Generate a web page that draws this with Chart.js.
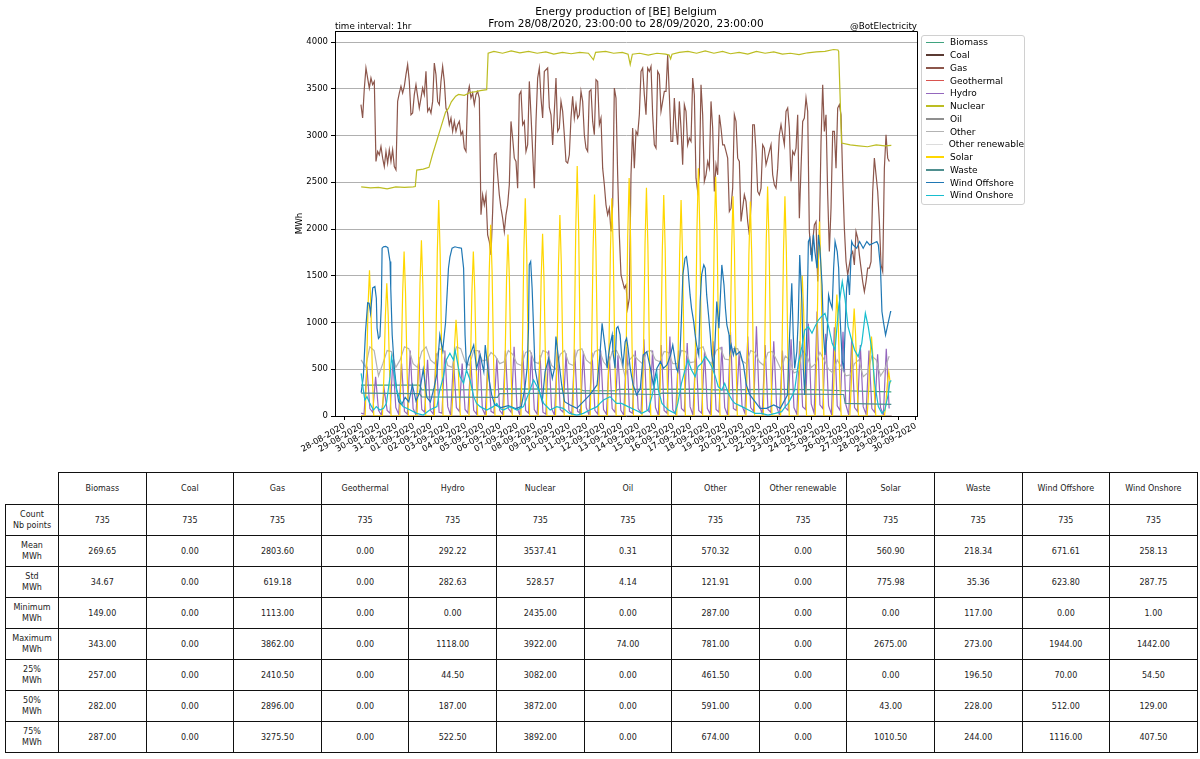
<!DOCTYPE html>
<html>
<head>
<meta charset="utf-8">
<script src="https://cdn.jsdelivr.net/npm/chart.js@4.4.1/dist/chart.umd.min.js"></script>
<style>
  html, body { margin: 0; padding: 0; background: #fff; }
  body { width: 1200px; height: 759px; position: relative; overflow: hidden; font-family: "DejaVu Sans", sans-serif; color: #000; }
  #chart { position: absolute; left: 0; top: 0; }
  .txt { position: absolute; white-space: nowrap; }
  #title { left: 326px; width: 600px; top: 5px; text-align: center; font-size: 10.5px; line-height: 12px; }
  #leftNote { left: 335px; top: 21px; font-size: 8.75px; line-height: 10px; }
  #rightNote { left: 717px; width: 200px; top: 21px; text-align: right; font-size: 8.75px; line-height: 10px; }
  #legend { position: absolute; left: 921px; top: 35px; width: 104px; height: 170px; box-sizing: border-box;
            border: 1px solid #d0d0d0; border-radius: 3px; padding: 0 0 0 4px; font-size: 9px; background: #fff; }
  .li { height: 12.75px; display: flex; align-items: center; white-space: nowrap; }
  .sw { display: inline-block; width: 18px; height: 1.5px; margin-right: 6px; }
  #tbl { position: absolute; left: 5px; top: 472px; border-collapse: collapse; table-layout: fixed; font-size: 8px; color: #222; }
  #tbl td { border: 1px solid #111; text-align: center; vertical-align: middle; padding: 0; line-height: 11px; }
  #tbl tr.hdr td { height: 31px; }
  #tbl tr.row td { height: 30px; }
  #tbl td.corner { border: none; }
</style>
</head>
<body>
<canvas id="chart" width="1200" height="470"></canvas>
<div id="title" class="txt">Energy production of [BE] Belgium<br>From 28/08/2020, 23:00:00 to 28/09/2020, 23:00:00</div>
<div id="leftNote" class="txt">time interval: 1hr</div>
<div id="rightNote" class="txt">@BotElectricity</div>
<div id="legend"></div>
<table id="tbl"></table>
<script>
// ---------------- categories / labels ----------------
const seriesNames = ['Biomass','Coal','Gas','Geothermal','Hydro','Nuclear','Oil','Other','Other renewable','Solar','Waste','Wind Offshore','Wind Onshore'];
const seriesColors = ['#3fa37f','#5a3a32','#8c564b','#d9534f','#9467bd','#bcbd22','#8f8f8f','#b3b3b3','#dcdcdc','#ffd700','#4f8f8f','#1f77b4','#17becf'];
const dayLabels = ['28-08-2020','29-08-2020','30-08-2020','31-08-2020','01-09-2020','02-09-2020','03-09-2020','04-09-2020','05-09-2020','06-09-2020','07-09-2020','08-09-2020','09-09-2020','10-09-2020','11-09-2020','12-09-2020','13-09-2020','14-09-2020','15-09-2020','16-09-2020','17-09-2020','18-09-2020','19-09-2020','20-09-2020','21-09-2020','22-09-2020','23-09-2020','24-09-2020','25-09-2020','26-09-2020','27-09-2020','28-09-2020','29-09-2020','30-09-2020'];
const yTicks = [0,500,1000,1500,2000,2500,3000,3500,4000];

// time unit: hours since 28-08-2020 00:00
// ---------------- series values ----------------
// Gas: read every 2.311 h starting at hour 22.7
const gasStart = 22.7, gasStep = 2.311;
const gas = [
3330,3187,3500,3722,3615,3508,3615,3544,3579,2723,
2830,2794,2883,2758,2669,2830,2705,2848,2723,2848,
2669,2634,3365,3454,3526,3454,3526,3651,3758,3579,
3222,3240,3437,3544,3419,3294,3401,3508,3437,3686,
3258,3294,3240,3365,3776,3651,3365,3330,3579,3740,
3579,3294,3240,3115,3187,3044,3151,3044,3115,3151,
3008,3044,2866,2830,3437,3526,3401,3454,3330,3437,
3472,3401,2152,2366,2259,2366,1938,1866,1723,2188,
2794,2812,2580,2366,2223,2116,1973,2152,2259,2473,
3151,2973,2758,2723,2437,3437,3472,3115,3151,2830,
2901,3579,3222,2830,2437,3151,3615,3722,3401,3187,
3686,3704,3722,3300,3222,2900,3258,3615,3044,3080,
3365,3258,3008,2723,2705,2794,3187,3419,3187,3330,
3187,3222,3472,3365,3008,2866,2830,3472,3490,3151,
3008,3597,3579,3115,3187,2651,2473,2259,2152,2223,
1973,2259,3508,3401,2580,1938,1509,1438,1367,1402,
1152,1259,2580,3080,2651,3044,3008,3222,3686,3722,
3437,3222,3722,3686,3740,3222,2901,2866,3686,3651,
3258,3365,3472,3472,3862,3437,2937,2937,3401,3080,
2901,3365,3080,2687,3330,3258,2901,2973,2937,3615,
3437,2544,2402,2580,3544,3222,2509,2580,2723,2651,
3365,3080,2402,2687,2580,3222,3080,2901,2901,2830,
2758,2188,2223,2437,3222,3151,2758,2723,2080,2223,
2366,2295,2080,1938,2259,3115,3115,2830,2402,2366,
2437,2901,2866,2687,2758,2830,2901,2580,2473,2437,
2651,3008,3115,3008,2901,3258,3294,3080,2509,2830,
2794,2866,3222,2116,2651,3151,3187,3401,3258,1973,
1723,1866,2045,2080,1438,1938,2937,3544,3044,3222,
2366,1759,2223,3044,3044,2651,3294,3330,3222,2544,
2009,1652,1509,1616,1723,1759,1616,1973,1902,1723,
1581,1438,1331,1438,1581,1581,1652,2402,2758,2580,
2402,2080,1616,1545,2651,3008,2758,2723
];

// Hydro: every 4 h from hour 23 (hours of day 23,3,7,11,15,19)
const hydroStart = 23, hydroStep = 4;
const hydro = [30,
20,530,80,40,420,60,  10,280,60,30,600,90,  20,560,50,20,700,80,  10,630,70,40,600,60,
20,670,40,30,700,100, 10,600,90,50,560,70,  30,590,60,20,700,80,  10,640,50,30,620,60,
20,700,80,40,740,90,  10,700,60,30,680,70,  20,650,40,20,700,80,  10,690,70,40,670,60,
20,710,50,30,690,90,  10,680,60,20,700,70,  20,640,80,40,650,60,  10,740,50,30,700,80,
30,820,70,40,700,90,  10,760,60,30,850,70,  20,700,80,50,780,100, 10,720,60,30,690,80,
20,800,70,40,740,90,  10,900,80,60,680,110, 30,850,90,50,960,120, 20,760,70,40,800,100,
10,700,90,60,820,90,  20,800,100,70,990,130, 30,1118,120,80,880,110, 20,950,110,60,900,120,
10,820,90,50,760,100, 20,700,80,40,660,90,  10,720,80
];

// Other: every 6 h from hour 23 (hours of day 23,5,11,17)
const otherStart = 23, otherStep = 6;
const other = [600,
520,740,700,430, 560,700,690,520, 600,740,720,560, 520,690,740,600, 560,720,700,540,
520,740,720,580, 540,700,700,590, 600,680,640,560, 580,700,660,560, 540,680,700,580,
560,700,680,540, 500,660,700,560, 540,700,720,600, 560,690,710,580, 520,690,700,600,
420,600,650,600, 560,690,700,600, 580,690,680,560, 560,700,690,570, 580,720,740,600,
560,700,730,610, 600,720,720,590, 560,700,680,580, 540,680,690,600, 500,640,600,460,
480,700,640,520, 560,680,600,500, 460,600,520,430, 440,560,600,420, 460,640,600,430,
500,640
];

// Solar: per day (29-08 .. 28-09), every 2 h from 04:30 to 16:30
const solarFirstDay = 1, solarSlotStart = 4.5, solarSlotStep = 2;
const solarDays = [
[0,470,1170,1560,1160,460,0],[0,430,1060,1420,1070,420,0],[0,530,1320,1760,1310,520,0],
[0,560,1410,1880,1400,570,0],[0,690,1740,2310,1730,700,0],[0,300,760,1030,780,320,0],
[0,530,1320,1760,1330,540,0],[0,610,1530,2045,1540,620,0],[0,580,1450,1940,1460,580,0],
[0,700,1750,2330,1740,690,0],[0,590,1460,1950,1450,580,0],[0,640,1610,2150,1620,650,0],
[0,800,2000,2675,2010,800,0],[0,710,1780,2370,1770,700,0],[0,700,1750,2330,1760,710,0],
[0,760,1910,2545,1900,760,0],[0,730,1830,2440,1820,730,0],[0,710,1770,2365,1780,710,0],
[0,690,1730,2310,1740,700,0],[0,790,1990,2650,1980,790,0],[0,770,1920,2560,1910,760,0],
[0,700,1760,2350,1760,700,0],[0,690,1720,2295,1710,680,0],[0,730,1840,2455,1840,740,0],
[0,700,1760,2350,1750,700,0],[0,450,1120,1500,1110,440,0],[0,620,1560,2080,1550,620,0],
[0,390,970,1300,980,390,0],[0,340,860,1150,860,350,0],[0,250,640,850,630,250,0],
[0,140,350,470,350]
];

// [hour, MWh]
const nuclear = [[23,2450],[36,2440],[47,2445],[59,2430],[71,2450],[83,2445],[95,2450],[98,2455],[100,2630],[109,2640],[117,2660],[122,2800],[128,2950],[134,3100],[140,3250],[144,3290],[148,3360],[154,3420],[158,3440],[166,3430],[174,3460],[182,3470],[188,3480],[197,3490],[199,3880],[207,3900],[219,3880],[231,3905],[243,3885],[255,3900],[267,3880],[279,3895],[290,3870],[302,3890],[314,3875],[326,3890],[338,3880],[345,3810],[348,3890],[362,3900],[373,3880],[385,3890],[393,3870],[396,3760],[399,3870],[409,3880],[421,3860],[433,3880],[445,3870],[450,3860],[452,3820],[454,3870],[464,3890],[476,3900],[488,3880],[500,3905],[512,3880],[524,3900],[535,3875],[547,3890],[559,3870],[571,3900],[583,3880],[595,3895],[607,3870],[618,3880],[630,3865],[642,3885],[654,3895],[666,3900],[678,3920],[684,3915],[685,3900],[689,2920],[701,2900],[713,2890],[725,2880],[737,2900],[749,2890],[758,2895]];

const windOffshore = [[23,250],[26,420],[29,900],[32,1210],[34,1206],[36,1100],[39,1370],[42,1384],[44,1260],[45,940],[47,830],[49,850],[51,1200],[52,1795],[54,1810],[57,1815],[60,1800],[63,1652],[64,1367],[66,867],[69,510],[72,296],[75,153],[79,120],[84,200],[89,150],[94,330],[99,160],[104,250],[109,500],[114,200],[119,150],[124,300],[128,450],[132,867],[136,700],[140,1000],[144,1581],[146,1700],[149,1795],[153,1810],[158,1800],[162,1795],[165,1581],[167,867],[169,510],[172,620],[174,653],[179,760],[183,510],[188,653],[193,474],[195,760],[200,403],[204,225],[208,120],[217,90],[227,110],[237,80],[245,100],[250,300],[253,510],[255,938],[256,1616],[258,1652],[260,1367],[264,510],[269,296],[274,153],[278,474],[283,617],[288,403],[291,510],[293,849],[296,653],[301,332],[305,153],[312,120],[322,82],[331,153],[340,225],[350,332],[354,653],[357,992],[359,867],[362,688],[364,510],[366,653],[368,760],[371,867],[372,688],[375,510],[377,938],[379,956],[382,867],[384,653],[386,546],[389,795],[391,831],[393,724],[396,510],[400,332],[405,225],[410,296],[414,653],[419,688],[424,510],[428,332],[433,510],[438,581],[442,510],[447,546],[452,653],[455,760],[460,510],[462,474],[465,653],[467,1045],[469,1509],[472,1688],[474,1705],[476,1581],[479,1295],[481,1152],[484,1010],[486,867],[488,760],[491,653],[493,1224],[495,1509],[498,1616],[500,1581],[502,1295],[505,1045],[507,867],[509,653],[512,510],[514,867],[516,1224],[519,938],[523,1616],[526,1402],[528,1152],[530,974],[533,867],[534,688],[536,760],[539,653],[541,724],[543,653],[548,688],[553,546],[557,332],[562,225],[569,153],[576,82],[585,82],[595,118],[604,82],[614,225],[617,867],[620,1420],[622,867],[624,510],[627,688],[629,1045],[631,1723],[634,1224],[636,510],[638,225],[641,974],[643,1866],[645,1902],[648,1652],[650,1938],[652,1759],[655,1581],[657,1938],[659,1795],[662,1402],[664,867],[666,653],[669,867],[671,1295],[673,1224],[676,1152],[678,1581],[680,1866],[683,1759],[685,1581],[687,1045],[690,581],[692,510],[694,938],[696,1367],[698,1509],[700,1295],[703,1866],[705,1830],[710,1795],[714,1866],[719,1795],[724,1866],[728,1830],[733,1848],[738,1866],[740,1830],[743,1581],[745,1117],[747,1010],[750,867],[752,938],[754,1010],[757,1117],[758,1117]];

const windOnshore = [[23,456],[26,278],[28,171],[31,207],[35,135],[40,64],[44,100],[49,64],[54,82],[58,135],[63,421],[65,635],[68,492],[72,278],[77,171],[81,100],[91,64],[100,28],[109,10],[118,64],[128,100],[132,278],[137,421],[141,599],[146,671],[151,599],[153,706],[155,635],[160,421],[165,349],[169,492],[174,385],[179,207],[183,135],[188,100],[197,64],[206,100],[211,135],[215,82],[220,64],[229,100],[239,64],[248,100],[257,278],[262,385],[267,314],[271,242],[276,135],[285,64],[294,100],[303,82],[312,28],[322,10],[331,28],[340,64],[350,100],[354,135],[359,171],[368,207],[377,135],[384,135],[393,100],[403,64],[412,28],[421,64],[426,207],[431,385],[433,456],[435,278],[440,135],[444,100],[449,64],[458,28],[462,135],[467,349],[472,492],[476,599],[481,492],[486,421],[490,528],[495,564],[500,635],[504,599],[509,528],[514,421],[518,314],[523,278],[527,349],[532,242],[537,171],[541,135],[551,100],[560,64],[569,28],[578,28],[587,10],[597,28],[606,46],[611,100],[615,135],[620,207],[624,278],[629,563],[634,742],[638,920],[643,956],[648,885],[652,955],[657,1027],[661,1063],[666,1099],[671,956],[676,777],[680,706],[685,1170],[690,1438],[694,1242],[698,956],[703,813],[707,706],[712,635],[717,777],[722,1099],[726,956],[731,706],[735,349],[740,100],[745,28],[749,64],[754,242],[756,367],[758,380]];

const biomass = [[23,330],[104,330],[107,280],[212,282],[215,290],[326,288],[331,270],[375,272],[380,285],[494,287],[514,280],[593,285],[652,282],[692,270],[758,258]];
const waste = [[23,245],[104,240],[107,205],[212,200],[215,240],[326,245],[435,230],[440,245],[553,240],[632,235],[692,230],[694,135],[758,125]];
const oil = [[23,0],[325,0],[326,74],[327,0],[758,0]];
const coal = [[23,0],[758,0]];
const geothermal = [[23,0],[758,0]];
const otherRenewable = [[23,0],[758,0]];

// ---------------- table statistics ----------------
const rowLabels = [['Count','Nb points'],['Mean','MWh'],['Std','MWh'],['Minimum','MWh'],['Maximum','MWh'],['25%','MWh'],['50%','MWh'],['75%','MWh']];
const statCount = [735,735,735,735,735,735,735,735,735,735,735,735,735];
const statMean = [269.65,0,2803.60,0,292.22,3537.41,0.31,570.32,0,560.90,218.34,671.61,258.13];
const statStd = [34.67,0,619.18,0,282.63,528.57,4.14,121.91,0,775.98,35.36,623.80,287.75];
const statMin = [149,0,1113,0,0,2435,0,287,0,0,117,0,1];
const statMax = [343,0,3862,0,1118,3922,74,781,0,2675,273,1944,1442];
const statP25 = [257,0,2410.50,0,44.50,3082,0,461.50,0,0,196.50,70,54.50];
const statP50 = [282,0,2896,0,187,3872,0,591,0,43,228,512,129];
const statP75 = [287,0,3275.50,0,522.50,3892,0,674,0,1010.50,244,1116,407.50];

// ---------------- build datasets ----------------
const fromPairs = list => list.map(p => ({x: p[0], y: p[1]}));
const fromGrid = (start, step, vals) => vals.map((v, i) => ({x: start + i * step, y: v}));
const fromDays = (firstDay, slotStart, slotStep, rows) => {
  const out = [];
  rows.forEach((r, di) => r.forEach((v, j) => out.push({x: (firstDay + di) * 24 + slotStart + j * slotStep, y: v})));
  return out;
};
const solarPts = [{x: 23, y: 0}].concat(fromDays(solarFirstDay, solarSlotStart, solarSlotStep, solarDays));

const seriesData = [
  fromPairs(biomass), fromPairs(coal), fromGrid(gasStart, gasStep, gas), fromPairs(geothermal),
  fromGrid(hydroStart, hydroStep, hydro), fromPairs(nuclear), fromPairs(oil),
  fromGrid(otherStart, otherStep, other), fromPairs(otherRenewable), solarPts,
  fromPairs(waste), fromPairs(windOffshore), fromPairs(windOnshore)
];

const datasets = seriesNames.map((name, i) => ({
  label: name, data: seriesData[i], borderColor: seriesColors[i], backgroundColor: seriesColors[i],
  borderWidth: 1.2, pointRadius: 0, tension: 0, fill: false, order: seriesNames.length - i
}));

const framePlugin = {
  id: 'frame',
  afterDatasetsDraw(chart) {
    const {ctx, chartArea: a} = chart;
    ctx.save();
    ctx.strokeStyle = '#000'; ctx.lineWidth = 1;
    ctx.beginPath();
    ctx.moveTo(Math.round(a.left), Math.round(a.top) + 0.5);
    ctx.lineTo(Math.round(a.right) + 0.5, Math.round(a.top) + 0.5);
    ctx.lineTo(Math.round(a.right) + 0.5, Math.round(a.bottom));
    ctx.stroke();
    ctx.restore();
  }
};

const tickFont = {family: 'DejaVu Sans', size: 8.5};
new Chart(document.getElementById('chart'), {
  type: 'line',
  data: {datasets},
  options: {
    responsive: false, animation: false, devicePixelRatio: 1, events: [],
    layout: {padding: {left: 290, right: 283, top: 31, bottom: 0}},
    plugins: {legend: {display: false}, tooltip: {enabled: false}, title: {display: false}},
    scales: {
      x: {
        type: 'linear', min: -13.3, max: 793.6,
        afterBuildTicks: s => { s.ticks = dayLabels.map((_, i) => ({value: i * 24})); },
        afterFit: s => { s.height = 54; },
        ticks: {autoSkip: false, minRotation: 30, maxRotation: 30, padding: 1, color: '#000', font: tickFont,
                callback: v => dayLabels[Math.round(v / 24)]},
        grid: {display: true, drawOnChartArea: false, drawTicks: true, tickLength: 4, tickColor: '#000'},
        border: {display: true, color: '#000', width: 1}
      },
      y: {
        min: 0, max: 4118,
        afterBuildTicks: s => { s.ticks = yTicks.map(v => ({value: v})); },
        afterFit: s => { s.width = 45; },
        ticks: {color: '#000', font: tickFont, padding: 3, callback: v => String(v)},
        grid: {color: '#b0b0b0', lineWidth: 1, tickLength: 4, tickColor: '#000'},
        border: {display: true, color: '#000', width: 1},
        title: {display: true, text: 'MWh', color: '#000', font: {family: 'DejaVu Sans', size: 8.75}, padding: {top: 4, bottom: 0}}
      }
    }
  },
  plugins: [framePlugin]
});

// ---------------- legend ----------------
const legend = document.getElementById('legend');
seriesNames.forEach((n, i) => {
  const d = document.createElement('div'); d.className = 'li';
  const s = document.createElement('span'); s.className = 'sw'; s.style.background = seriesColors[i];
  const t = document.createElement('span'); t.textContent = n;
  d.appendChild(s); d.appendChild(t); legend.appendChild(d);
});

// ---------------- table ----------------
const tbl = document.getElementById('tbl');
const cg = document.createElement('colgroup');
const c0 = document.createElement('col'); c0.style.width = '53px'; cg.appendChild(c0);
seriesNames.forEach(() => { const c = document.createElement('col'); c.style.width = '87.6px'; cg.appendChild(c); });
tbl.appendChild(cg);
const hr = document.createElement('tr'); hr.className = 'hdr';
const corner = document.createElement('td'); corner.className = 'corner'; hr.appendChild(corner);
seriesNames.forEach(n => { const td = document.createElement('td'); td.textContent = n; hr.appendChild(td); });
tbl.appendChild(hr);
const statRows = [statCount, statMean, statStd, statMin, statMax, statP25, statP50, statP75];
statRows.forEach((vals, r) => {
  const tr = document.createElement('tr'); tr.className = 'row';
  const lab = document.createElement('td'); lab.innerHTML = rowLabels[r][0] + '<br>' + rowLabels[r][1]; tr.appendChild(lab);
  vals.forEach(v => { const td = document.createElement('td'); td.textContent = r === 0 ? String(v) : v.toFixed(2); tr.appendChild(td); });
  tbl.appendChild(tr);
});
</script>
</body>
</html>
